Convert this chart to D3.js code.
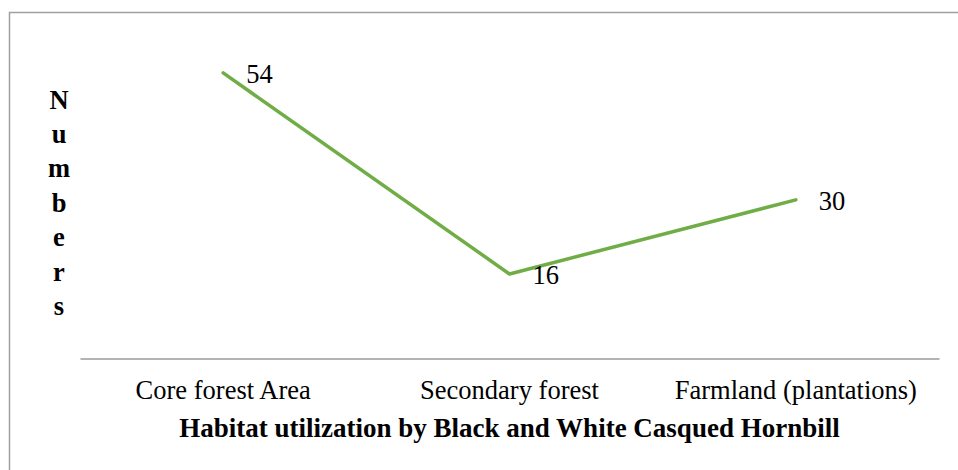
<!DOCTYPE html>
<html>
<head>
<meta charset="utf-8">
<script src="https://cdn.jsdelivr.net/npm/d3@7"></script>
<style>
  html, body { margin: 0; padding: 0; background: #fff; }
  svg { display: block; font-family: "Liberation Serif", "Times New Roman", serif; }
</style>
</head>
<body>
<svg id="chart" width="958" height="470"></svg>
<script>
// Habitat categories and hornbill counts
const habitats = ["Core forest Area", "Secondary forest", "Farmland (plantations)"];
const counts = [54, 16, 30];
const yDomain = [0, 60];
const yTitle = "Numbers";
const xTitle = "Habitat utilization by Black and White Casqued Hornbill";

const svg = d3.select("#chart");

// Outer frame of the chart area
svg.append("rect")
  .attr("x", 9.5).attr("y", 12.5)
  .attr("width", 1000).attr("height", 1000)
  .attr("fill", "none")
  .attr("stroke", "#a0a0a0")
  .attr("stroke-width", 1.5);

const plot = { left: 80, right: 939, top: 41.2, bottom: 358.6 };

const x = d3.scaleBand()
  .domain(habitats)
  .range([plot.left, plot.right]);

const y = d3.scaleLinear()
  .domain(yDomain)
  .range([plot.bottom, plot.top]);

// Category axis with no ticks
const xAxis = svg.append("g")
  .attr("transform", `translate(0,${y(0)})`)
  .call(d3.axisBottom(x).tickSize(0).tickSizeOuter(0).tickPadding(30));
xAxis.select(".domain").attr("stroke", "#b3b3b3").attr("stroke-width", 2);
xAxis.selectAll(".tick text")
  .attr("font-family", "Liberation Serif, Times New Roman, serif")
  .attr("font-size", 26.5)
  .attr("fill", "#000")
  .attr("dy", "0")
  .attr("y", 40);

const cx = d => x(d) + x.bandwidth() / 2;

// Count line
const line = d3.line()
  .x((d, i) => cx(habitats[i]))
  .y(d => y(d));

svg.append("path")
  .datum(counts)
  .attr("d", line)
  .attr("fill", "none")
  .attr("stroke", "#70ad47")
  .attr("stroke-width", 3.5)
  .attr("stroke-linejoin", "round")
  .attr("stroke-linecap", "round");

// Value labels to the right of each point
svg.append("g").selectAll("text")
  .data(counts)
  .join("text")
  .attr("x", (d, i) => cx(habitats[i]) + 23)
  .attr("y", d => y(d))
  .attr("dy", "0.38em")
  .attr("font-size", 26.5)
  .attr("fill", "#000")
  .text(d => d);

// Stacked vertical y-axis title
svg.append("g").selectAll("text")
  .data(yTitle.split(""))
  .join("text")
  .attr("x", 59)
  .attr("y", (d, i) => 108.5 + i * 34.4)
  .attr("text-anchor", "middle")
  .attr("font-size", 26.5)
  .attr("font-weight", "bold")
  .attr("fill", "#000")
  .text(d => d);

// X-axis title
svg.append("text")
  .attr("x", (plot.left + plot.right) / 2)
  .attr("y", 437)
  .attr("text-anchor", "middle")
  .attr("font-size", 27)
  .attr("font-weight", "bold")
  .attr("fill", "#000")
  .text(xTitle);
</script>
</body>
</html>
